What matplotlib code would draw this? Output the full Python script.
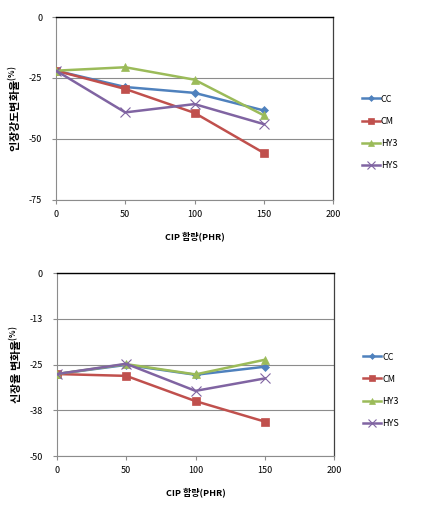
import matplotlib
matplotlib.use("Agg")
import matplotlib.pyplot as plt

plt.rcParams['font.family'] = ['Noto Sans CJK KR', 'DejaVu Sans']

x_vals = [0, 50, 100, 150]
series_names = ['CC', 'CM', 'HY3', 'HYS']

tensile_cc = [-22, -28.7, -31.1, -38.3]
tensile_cm = [-22, -29.5, -39.3, -55.7]
tensile_hy3 = [-22, -20.6, -25.7, -40.3]
tensile_hys = [-22, -39.1, -35.7, -43.9]

elong_cc = [-27.6, -25.1, -27.8, -25.6]
elong_cm = [-27.6, -28.1, -35.0, -40.6]
elong_hy3 = [-27.6, -24.9, -27.7, -23.7]
elong_hys = [-27.6, -24.8, -32.2, -28.8]

top_yticks = [0, -25, -50, -75]
top_yticklabels = ['0', '-25', '-50', '-75']
bot_yticks = [0, -12.5, -25, -37.5, -50]
bot_yticklabels = ['0', '-13', '-25', '-38', '-50']
xticks = [0, 50, 100, 150, 200]

xlabel = 'CIP 함량(PHR)'
top_ylabel = '인장강도변화율'
bot_ylabel = '신장율 변화율'

colors = ['#4F81BD', '#C0504D', '#9BBB59', '#8064A2']
markers = ['D', 's', '^', 'x']
msizes = [4, 6, 5.5, 7]

fig = plt.figure(figsize=(4.25, 5.09), dpi=100)

def draw(ax, data, yticks, ylabels, ylim, ylabel, legend_y):
    for vals, name, c, m, ms in zip(data, series_names, colors, markers, msizes):
        ax.plot(x_vals, vals, color=c, marker=m, markersize=ms, linewidth=1.8,
                label=name, markeredgewidth=0.8 if m == 'x' else 0.5,
                markeredgecolor=c, zorder=3)
    ax.set_xlim(0, 200)
    ax.set_ylim(*ylim)
    ax.set_xticks(xticks)
    ax.set_xticklabels([str(t) for t in xticks], fontsize=6.5)
    ax.set_yticks(yticks)
    ax.set_yticklabels(ylabels, fontsize=6.5)
    ax.yaxis.grid(True, color='#8c8c8c', linewidth=0.8)
    ax.set_axisbelow(True)
    ax.tick_params(axis='both', direction='out', length=3, width=0.8, color='#8c8c8c', pad=4)
    ax.tick_params(axis='y', pad=7)
    ax.spines['top'].set_color('#000000')
    ax.spines['top'].set_linewidth(1.0)
    ax.spines['right'].set_color('#404040')
    ax.spines['right'].set_linewidth(0.9)
    ax.spines['left'].set_color('#8c8c8c')
    ax.spines['bottom'].set_color('#8c8c8c')
    ax.set_xlabel(xlabel, fontsize=6.5, fontweight='bold', labelpad=9)
    ax.set_ylabel(ylabel + '$^{\\mathregular{(\\%)}}$', fontsize=8, fontweight='bold', labelpad=4)
    ax.legend(loc='center left', bbox_to_anchor=(1.09, legend_y), frameon=False,
              fontsize=6.5, handlelength=2.0, handletextpad=0.15, labelspacing=1.45,
              borderaxespad=0, markerscale=0.75)

ax1 = fig.add_axes([0.1318, 0.6071, 0.6518, 0.3595])
draw(ax1, [tensile_cc, tensile_cm, tensile_hy3, tensile_hys], top_yticks, top_yticklabels,
     (-75, 0), top_ylabel, 0.37)

ax2 = fig.add_axes([0.134, 0.1041, 0.652, 0.3595])
draw(ax2, [elong_cc, elong_cm, elong_hy3, elong_hys], bot_yticks, bot_yticklabels,
     (-50, 0), bot_ylabel, 0.36)

fig.savefig('out.png', dpi=100)
